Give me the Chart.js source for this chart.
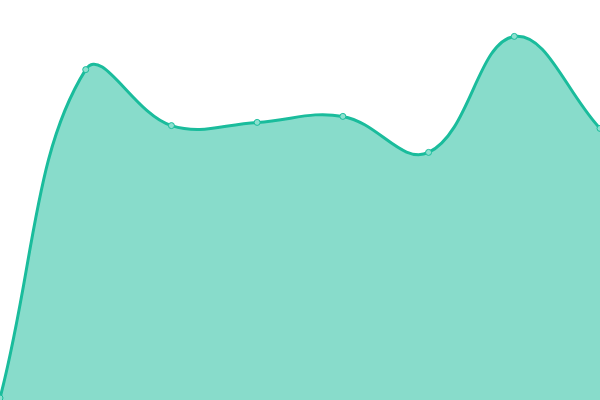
<!DOCTYPE html>
<html>
<head>
<meta charset="utf-8">
<script src="https://cdn.jsdelivr.net/npm/chart.js@4/dist/chart.umd.min.js"></script>
<style>
  html, body { margin: 0; padding: 0; background: #fff; }
  #wrap { width: 600px; height: 400px; }
</style>
</head>
<body>
<div id="wrap"><canvas id="areaChart"></canvas></div>
<script>
var labels = ["1", "2", "3", "4", "5", "6", "7", "8"];
var values = [0.5, 82.6, 68.6, 69.4, 70.9, 61.9, 90.9, 67.9];
var yMin = 0, yMax = 100;

var ctx = document.getElementById("areaChart").getContext("2d");
new Chart(ctx, {
  type: "line",
  data: {
    labels: labels,
    datasets: [{
      data: values,
      fill: "origin",
      backgroundColor: "rgba(26,188,156,0.52)",
      borderColor: "#1abc9c",
      borderWidth: 3,
      tension: 0.4,
      pointRadius: 3,
      pointBorderWidth: 1,
      pointBackgroundColor: "rgba(140,224,207,1)",
      pointBorderColor: "#1abc9c"
    }]
  },
  options: {
    responsive: true,
    maintainAspectRatio: false,
    animation: false,
    layout: { padding: 0, autoPadding: false },
    plugins: { legend: { display: false }, tooltip: { enabled: false } },
    scales: {
      x: { display: false, offset: false },
      y: { display: false, min: yMin, max: yMax }
    }
  }
});
</script>
</body>
</html>
